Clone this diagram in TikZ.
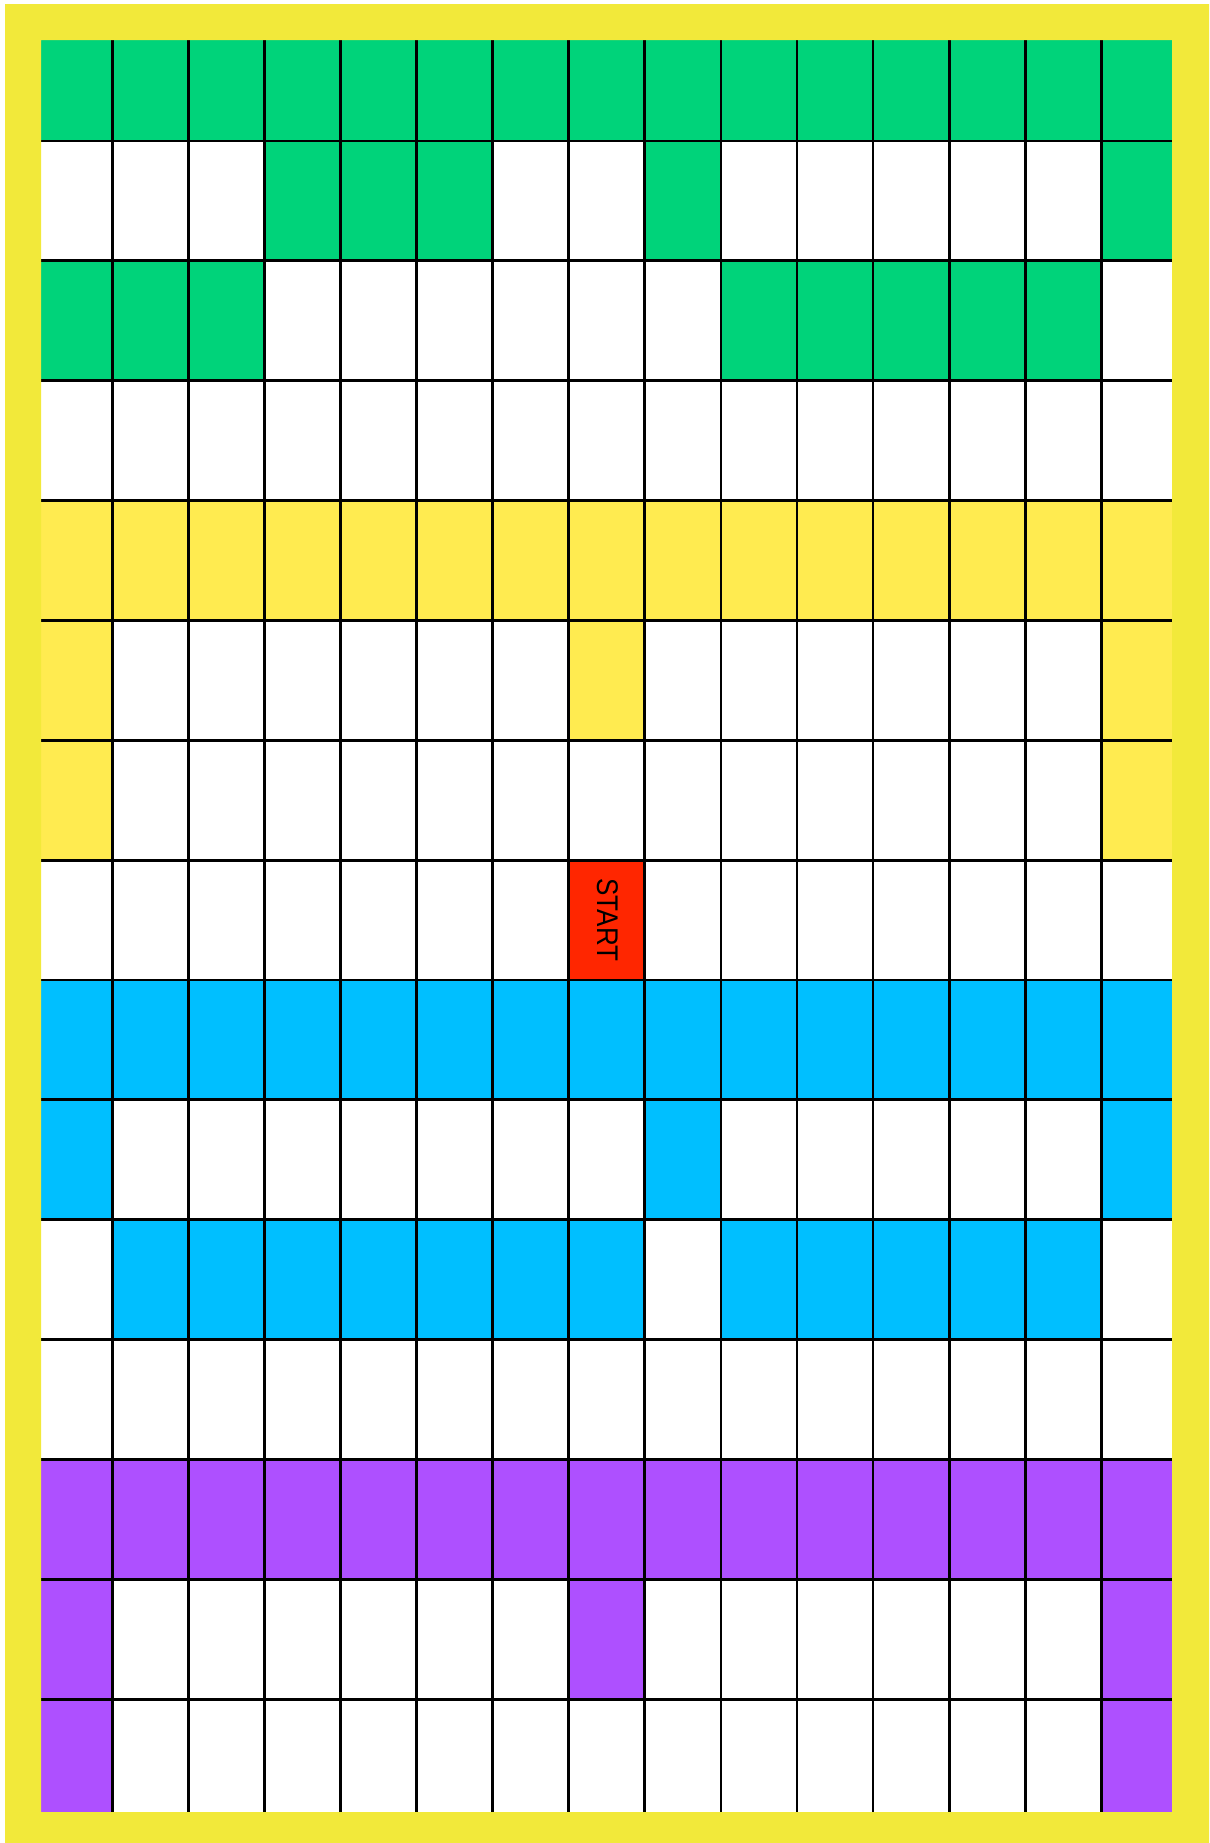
\documentclass[tikz,border=0pt]{standalone}
\usepackage{graphicx}
\usepackage{fontspec}
\setmainfont{Liberation Sans}
\definecolor{gr}{RGB}{0,211,122}
\definecolor{yb}{RGB}{242,233,58}
\definecolor{yc}{RGB}{255,235,80}
\definecolor{bl}{RGB}{0,191,255}
\definecolor{pu}{RGB}{174,80,255}
\definecolor{rd}{RGB}{255,38,0}
\newcommand\mycell[3]{\fill[#3] ({36.2+76.08*#1},{21.1+119.86*#2}) rectangle ({36.2+76.08*(#1+1)},{21.1+119.86*(#2+1)});}
\tikzset{gridline/.style={draw=black,line width=2.8bp}}
\begin{document}
\begin{tikzpicture}[x=1bp,y=-1bp]
\useasboundingbox (0,0) rectangle (1209,1843);
\fill[white] (0,0) rectangle (1209,1843);
\begin{scope}
\clip (41,40) rectangle (1172,1812);
\fill[white] (41,40) rectangle (1172,1812);
\foreach \c in {0,...,14} {\mycell{\c}{0}{gr}}
\foreach \c in {3,4,5,8,14} {\mycell{\c}{1}{gr}}
\foreach \c in {0,1,2,9,10,11,12,13} {\mycell{\c}{2}{gr}}
\foreach \c in {0,...,14} {\mycell{\c}{4}{yc}}
\foreach \c in {0,7,14} {\mycell{\c}{5}{yc}}
\foreach \c in {0,14} {\mycell{\c}{6}{yc}}
\mycell{7}{7}{rd}
\foreach \c in {0,...,14} {\mycell{\c}{8}{bl}}
\foreach \c in {0,8,14} {\mycell{\c}{9}{bl}}
\foreach \c in {1,2,3,4,5,6,7,9,10,11,12,13} {\mycell{\c}{10}{bl}}
\foreach \c in {0,...,14} {\mycell{\c}{12}{pu}}
\foreach \c in {0,7,14} {\mycell{\c}{13}{pu}}
\foreach \c in {0,14} {\mycell{\c}{14}{pu}}
\foreach \k in {1,...,14} {\draw[gridline] ({36.2+76.08*\k},40) -- ({36.2+76.08*\k},1812);}
\foreach \k in {1,...,14} {\draw[gridline] (41,{21.1+119.86*\k}) -- (1172,{21.1+119.86*\k});}
\end{scope}
\fill[yb,even odd rule] (5,4) rectangle (1209,1843) (41,40) rectangle (1172,1812);
\node[rotate=-90, inner sep=0pt, font=\fontsize{30}{30}\selectfont] (start) at (607.5,920) {\scalebox{0.87}[1]{START}};
\end{tikzpicture}
\end{document}
